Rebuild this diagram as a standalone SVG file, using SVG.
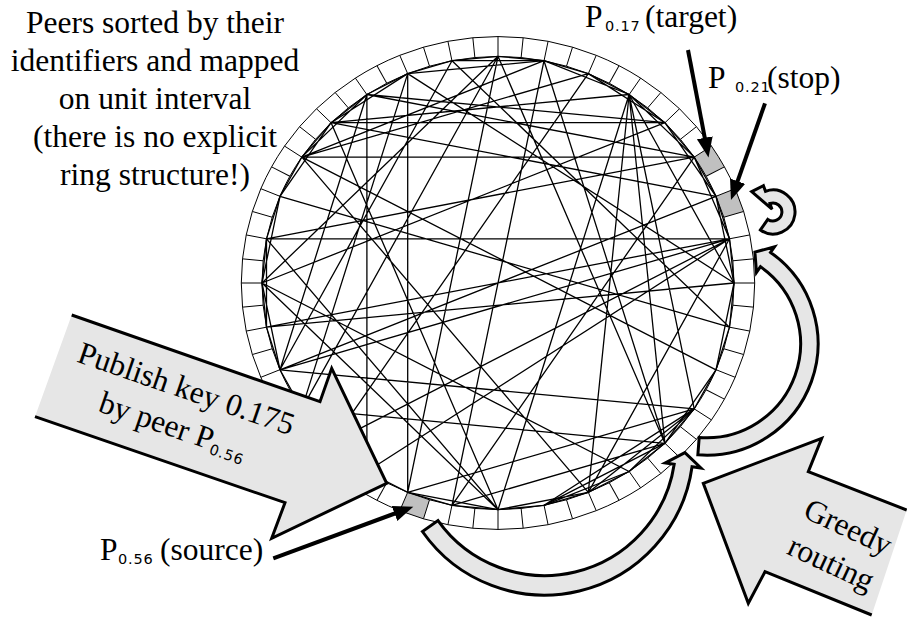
<svg xmlns="http://www.w3.org/2000/svg" xmlns:xlink="http://www.w3.org/1999/xlink" width="907" height="621" viewBox="0 0 907 621">
<defs>
<style>
text{font-family:'Liberation Serif','DejaVu Serif',serif;font-size:31.5px;fill:#000}
.sub{font-family:'DejaVu Sans','Liberation Sans',sans-serif;font-size:14.5px;letter-spacing:0.8px}
.ringline{fill:none;stroke:#000;stroke-width:1;vector-effect:non-scaling-stroke}
.cell{fill:#c0c0c0;stroke:none}
.chord{stroke:#000;stroke-width:1.3;fill:none}
.ptr{stroke:#000;stroke-width:4;fill:none;marker-end:url(#ah)}
.blk{fill:#e6e6e6;stroke:none}
.blkedge{fill:none;stroke:#000;stroke-width:3;stroke-linejoin:miter}
.curve{fill:#e6e6e6;stroke:#000;stroke-width:3;stroke-linejoin:miter}
</style>
<marker id="ah" markerUnits="userSpaceOnUse" markerWidth="22" markerHeight="18" refX="6" refY="8" orient="auto">
<path d="M0,0 L20,8 L0,16 z" fill="#000"/>
</marker>
<line id="dv" x1="0" y1="-236" x2="0" y2="-256.7" class="ringline"/>
</defs>

<g id="ring">
<path class="cell" d="M711.4,146.2 A256.7,246.3 0 0 1 724.4,166.9 L706.1,176.1 A236,226.7 0 0 0 694.2,157 Z"/>
<path class="cell" d="M735.2,188.7 A256.7,246.3 0 0 1 743.6,211.5 L723.8,217.2 A236,226.7 0 0 0 716,196.2 Z"/>
<path class="cell" d="M423.5,518.7 A256.7,246.3 0 0 1 399.8,510.6 L407.7,492.4 A236,226.7 0 0 0 429.5,499.9 Z"/>
<g transform="translate(498 283) scale(1 0.96)">
<circle class="ringline" r="256.7"/>
<circle class="ringline" r="236"/>
<use xlink:href="#dv"/><use xlink:href="#dv" transform="rotate(5.625)"/><use xlink:href="#dv" transform="rotate(11.25)"/><use xlink:href="#dv" transform="rotate(16.875)"/>
<use xlink:href="#dv" transform="rotate(22.5)"/><use xlink:href="#dv" transform="rotate(28.125)"/><use xlink:href="#dv" transform="rotate(33.75)"/><use xlink:href="#dv" transform="rotate(39.375)"/>
<use xlink:href="#dv" transform="rotate(45)"/><use xlink:href="#dv" transform="rotate(50.625)"/><use xlink:href="#dv" transform="rotate(56.25)"/><use xlink:href="#dv" transform="rotate(61.875)"/>
<use xlink:href="#dv" transform="rotate(67.5)"/><use xlink:href="#dv" transform="rotate(73.125)"/><use xlink:href="#dv" transform="rotate(78.75)"/><use xlink:href="#dv" transform="rotate(84.375)"/>
<use xlink:href="#dv" transform="rotate(90)"/><use xlink:href="#dv" transform="rotate(95.625)"/><use xlink:href="#dv" transform="rotate(101.25)"/><use xlink:href="#dv" transform="rotate(106.875)"/>
<use xlink:href="#dv" transform="rotate(112.5)"/><use xlink:href="#dv" transform="rotate(118.125)"/><use xlink:href="#dv" transform="rotate(123.75)"/><use xlink:href="#dv" transform="rotate(129.375)"/>
<use xlink:href="#dv" transform="rotate(135)"/><use xlink:href="#dv" transform="rotate(140.625)"/><use xlink:href="#dv" transform="rotate(146.25)"/><use xlink:href="#dv" transform="rotate(151.875)"/>
<use xlink:href="#dv" transform="rotate(157.5)"/><use xlink:href="#dv" transform="rotate(163.125)"/><use xlink:href="#dv" transform="rotate(168.75)"/><use xlink:href="#dv" transform="rotate(174.375)"/>
<use xlink:href="#dv" transform="rotate(180)"/><use xlink:href="#dv" transform="rotate(185.625)"/><use xlink:href="#dv" transform="rotate(191.25)"/><use xlink:href="#dv" transform="rotate(196.875)"/>
<use xlink:href="#dv" transform="rotate(202.5)"/><use xlink:href="#dv" transform="rotate(208.125)"/><use xlink:href="#dv" transform="rotate(213.75)"/><use xlink:href="#dv" transform="rotate(219.375)"/>
<use xlink:href="#dv" transform="rotate(225)"/><use xlink:href="#dv" transform="rotate(230.625)"/><use xlink:href="#dv" transform="rotate(236.25)"/><use xlink:href="#dv" transform="rotate(241.875)"/>
<use xlink:href="#dv" transform="rotate(247.5)"/><use xlink:href="#dv" transform="rotate(253.125)"/><use xlink:href="#dv" transform="rotate(258.75)"/><use xlink:href="#dv" transform="rotate(264.375)"/>
<use xlink:href="#dv" transform="rotate(270)"/><use xlink:href="#dv" transform="rotate(275.625)"/><use xlink:href="#dv" transform="rotate(281.25)"/><use xlink:href="#dv" transform="rotate(286.875)"/>
<use xlink:href="#dv" transform="rotate(292.5)"/><use xlink:href="#dv" transform="rotate(298.125)"/><use xlink:href="#dv" transform="rotate(303.75)"/><use xlink:href="#dv" transform="rotate(309.375)"/>
<use xlink:href="#dv" transform="rotate(315)"/><use xlink:href="#dv" transform="rotate(320.625)"/><use xlink:href="#dv" transform="rotate(326.25)"/><use xlink:href="#dv" transform="rotate(331.875)"/>
<use xlink:href="#dv" transform="rotate(337.5)"/><use xlink:href="#dv" transform="rotate(343.125)"/><use xlink:href="#dv" transform="rotate(348.75)"/><use xlink:href="#dv" transform="rotate(354.375)"/>
</g>
</g>

<g id="links">
<polygon class="chord" points="498,56.3 544,60.7 588.3,73.6 629.1,94.5 664.9,122.7 694.2,157.1 716,196.3 729.5,238.8 734,283 729.5,327.2 716,369.8 694.2,408.9 664.9,443.3 629.1,471.5 588.3,492.4 544,505.3 498,509.7 452,505.3 407.7,492.4 366.9,471.5 331.1,443.3 301.8,408.9 280,369.8 266.5,327.2 262,283 266.5,238.8 280,196.3 301.8,157.1 331.1,122.7 366.9,94.5 407.7,73.6 452,60.7"/>
<path class="chord" d="M301.8,157.1L366.9,94.5 M280,196.3L331.1,122.7 M331.1,122.7L407.7,73.6 M452,60.7L544,60.7 M544,60.7L629.1,94.5 M588.3,73.6L664.9,122.7 M629.1,94.5L694.2,157.1 M664.9,122.7L716,196.3 M694.2,157.1L729.5,238.8 M716,196.3L734,283 M734,283L716,369.8 M716,369.8L664.9,443.3 M694.2,408.9L629.1,471.5 M629.1,471.5L544,505.3 M588.3,492.4L498,509.7 M498,509.7L407.7,492.4 M280,369.8L262,283 M266.5,327.2L266.5,238.8 M262,283L280,196.3"/>
<path class="chord" d="M366.9,94.5L366.9,471.5 M407.7,73.6L407.7,492.4 M262,283L664.9,122.7 M266.5,327.2L729.5,238.8 M280,369.8L729.5,238.8 M280,369.8L694.2,408.9 M331.1,443.3L729.5,238.8 M366.9,471.5L729.5,238.8 M366.9,94.5L664.9,122.7 M498,509.7L629.1,94.5 M301.8,157.1L544,60.7 M301.8,157.1L588.3,73.6 M331.1,122.7L664.9,122.7 M262,283L498,509.7 M301.8,157.1L588.3,492.4 M407.7,492.4L694.2,408.9 M452,505.3L664.9,443.3 M588.3,492.4L629.1,94.5 M544,505.3L694.2,408.9 M498,56.3L664.9,443.3 M544,60.7L452,505.3 M544,60.7L664.9,443.3 M498,509.7L266.5,238.8 M498,509.7L331.1,122.7 M694.2,157.1L266.5,238.8 M694.2,157.1L366.9,94.5 M716,196.3L331.1,122.7 M716,196.3L280,369.8 M734,283L266.5,327.2 M729.5,327.2L280,196.3 M716,369.8L301.8,157.1 M664.9,443.3L301.8,408.9 M629.1,471.5L262,283 M588.3,73.6L331.1,443.3 M498,56.3L301.8,408.9 M452,60.7L729.5,327.2 M407.7,73.6L734,283 M452,505.3L694.2,157.1 M588.3,492.4L729.5,238.8 M266.5,238.8L729.5,238.8 M629.1,94.5L664.9,443.3 M629.1,94.5L694.2,408.9 M629.1,94.5L734,283 M629.1,94.5L331.1,122.7 M407.7,73.6L301.8,408.9 M452,60.7L280,369.8 M498,56.3L407.7,492.4 M366.9,94.5L280,369.8 M262,283L498,56.3 M588.3,492.4L694.2,408.9 M544,505.3L664.9,443.3 M544,60.7L407.7,73.6 M694.2,157.1L301.8,157.1"/>
</g>

<g id="pointer-arrows">
<line class="ptr" x1="688" y1="50" x2="705.9" y2="143.7"/>
<line class="ptr" x1="765" y1="103.3" x2="735.6" y2="186.8"/>
<line class="ptr" x1="273.3" y1="558.3" x2="400.2" y2="511.5"/>
</g>

<g id="publish-arrow">
<polygon class="blk" points="71.7,315 320,401.7 331.7,368.3 386.7,483.3 271.7,538.3 285,502.7 35,416.7"/>
<polyline class="blkedge" points="71.7,315 320,401.7 331.7,368.3 386.7,483.3 271.7,538.3 285,502.7 35,416.7"/>
<g transform="translate(183,398.4) rotate(19)">
<text x="0" y="0" text-anchor="middle">Publish key 0.175</text>
<text x="0" y="40" text-anchor="middle">by peer P<tspan class="sub" dy="4">0.56</tspan></text>
</g>
</g>

<g id="greedy-arrow">
<polygon class="blk" points="906.7,510 808.3,471.7 821.7,438.3 703.3,483.3 748.3,603.3 765,571.7 871.7,615"/>
<polyline class="blkedge" points="906.7,510 808.3,471.7 821.7,438.3 703.3,483.3 748.3,603.3 765,571.7 871.7,615"/>
<g transform="translate(843.7,536.3) rotate(25)">
<text x="0" y="0" text-anchor="middle">Greedy</text>
<text x="0" y="40" text-anchor="middle">routing</text>
</g>
</g>

<g id="hop-arrows">
<path class="curve" d="M422.4,531.5 A149,149 0 0 0 692.05,466.74 L701,468 L684.9,452.6 L665.3,463 L674.2,464.2 A131,131 0 0 1 438,520.6 Z"/>
<path class="curve" d="M697.85,454.85 A111.5,111.5 0 0 0 770.56,252.4 L774.5,246.8 L754.9,252.1 L756.5,272.4 L760.5,266.7 A94,94 0 0 1 699.2,437.4 Z"/>
<path class="curve" d="M760.4,230 A22,22 0 1 0 765.5,191.3 L763.4,185.7 L751.7,191.6 L772,209.2 L769.9,203.5 A9,9 0 1 1 767.8,219.4 Z"/>
</g>

<g id="labels">
<text x="155" y="33" text-anchor="middle">Peers sorted by their</text>
<text x="155" y="71" text-anchor="middle">identifiers and mapped</text>
<text x="155" y="109" text-anchor="middle">on unit interval</text>
<text x="155" y="147" text-anchor="middle">(there is no explicit</text>
<text x="155" y="185" text-anchor="middle">ring structure!)</text>
<text x="585" y="27">P<tspan class="sub" x="605" y="31">0.17</tspan><tspan x="645" y="27">(target)</tspan></text>
<text x="708" y="88">P<tspan class="sub" x="735" y="92">0.21</tspan><tspan x="767" y="88">(stop)</tspan></text>
<text x="100" y="560">P<tspan class="sub" x="118" y="564">0.56</tspan><tspan x="160" y="560">(source)</tspan></text>
</g>
</svg>
